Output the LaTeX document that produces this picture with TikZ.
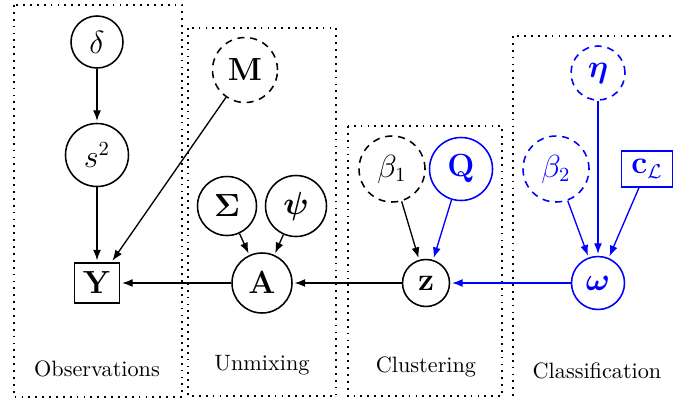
\documentclass[tikz,border=0pt]{standalone}
\usepackage{amsmath,amssymb,bm}
\usetikzlibrary{arrows.meta}
\begin{document}
\begin{tikzpicture}[x=0.45pt,y=-0.45pt,
  lat/.style={circle,draw,line width=0.7pt,inner sep=0pt,font=\fontsize{13.5}{16}\selectfont},
  hyp/.style={lat,dash pattern=on 3.2pt off 2.6pt},
  obs/.style={rectangle,draw,line width=0.7pt,inner sep=0pt,font=\fontsize{13.5}{16}\selectfont},
  conn/.style={-{Latex[length=4.8pt,width=3.6pt]},line width=0.6pt,shorten >=0.8pt},
  grp/.style={line width=0.8pt,dash pattern=on 0.8pt off 2.3pt},
  lbl/.style={font=\normalsize,inner sep=0pt}
]
\useasboundingbox (0,0) rectangle (675,398);
\clip (0,0) rectangle (675,398);
% groups
\draw[grp] (14,5) rectangle (182,397);
\draw[grp] (188,28) rectangle (336,396);
\draw[grp] (348,126) rectangle (502,396);
\draw[grp] (513,36) rectangle (690,420);
% nodes
\node[lat,minimum size=52*0.45pt] (delta) at (97,42) {$\delta$};
\node[lat,minimum size=63*0.45pt] (s2) at (97,155) {$s^2$};
\node[obs,minimum width=45*0.45pt,minimum height=40*0.45pt] (Y) at (97,283) {$\mathbf{Y}$};
\node[hyp,minimum size=65*0.45pt] (M) at (245,70) {$\mathbf{M}$};
\node[lat,minimum size=59*0.45pt] (Sigma) at (227,206) {$\boldsymbol{\Sigma}$};
\node[lat,minimum size=61*0.45pt] (psi) at (296,206) {$\boldsymbol{\psi}$};
\node[lat,minimum size=60*0.45pt] (A) at (262,283) {$\mathbf{A}$};
\node[lat,minimum size=47*0.45pt] (z) at (426,283) {$\mathbf{z}$};
\node[hyp,minimum size=66*0.45pt] (beta1) at (392,169) {$\beta_1$};
\node[lat,blue,minimum size=63*0.45pt] (Q) at (461,169) {$\mathbf{Q}$};
\node[hyp,blue,minimum size=66*0.45pt] (beta2) at (556,169) {$\beta_2$};
\node[hyp,blue,minimum size=54*0.45pt] (eta) at (598,73) {$\boldsymbol{\eta}$};
\node[obs,blue,minimum width=51*0.45pt,minimum height=36*0.45pt] (cL) at (647,169) {$\mathbf{c}_{\mathcal{L}}$};
\node[lat,blue,minimum size=53*0.45pt] (omega) at (598,283) {$\boldsymbol{\omega}$};
% labels
\node[lbl] (lobs) at (97,369) {Observations};
\node[lbl] (lunm) at (262,365) {Unmixing};
\node[lbl] (lclu) at (426,367) {Clustering};
\node[lbl] (lcla) at (597,371) {Classification};
% connectors
\draw[conn] (delta) -- (s2);
\draw[conn] (s2) -- (Y);
\draw[conn] (M) -- (Y);
\draw[conn] (A) -- (Y);
\draw[conn] (Sigma) -- (A);
\draw[conn] (psi) -- (A);
\draw[conn] (z) -- (A);
\draw[conn] (beta1) -- (z);
\draw[conn,blue] (Q) -- (z);
\draw[conn,blue] (omega) -- (z);
\draw[conn,blue] (beta2) -- (omega);
\draw[conn,blue] (eta) -- (omega);
\draw[conn,blue] (cL) -- (omega);
\end{tikzpicture}
\end{document}
